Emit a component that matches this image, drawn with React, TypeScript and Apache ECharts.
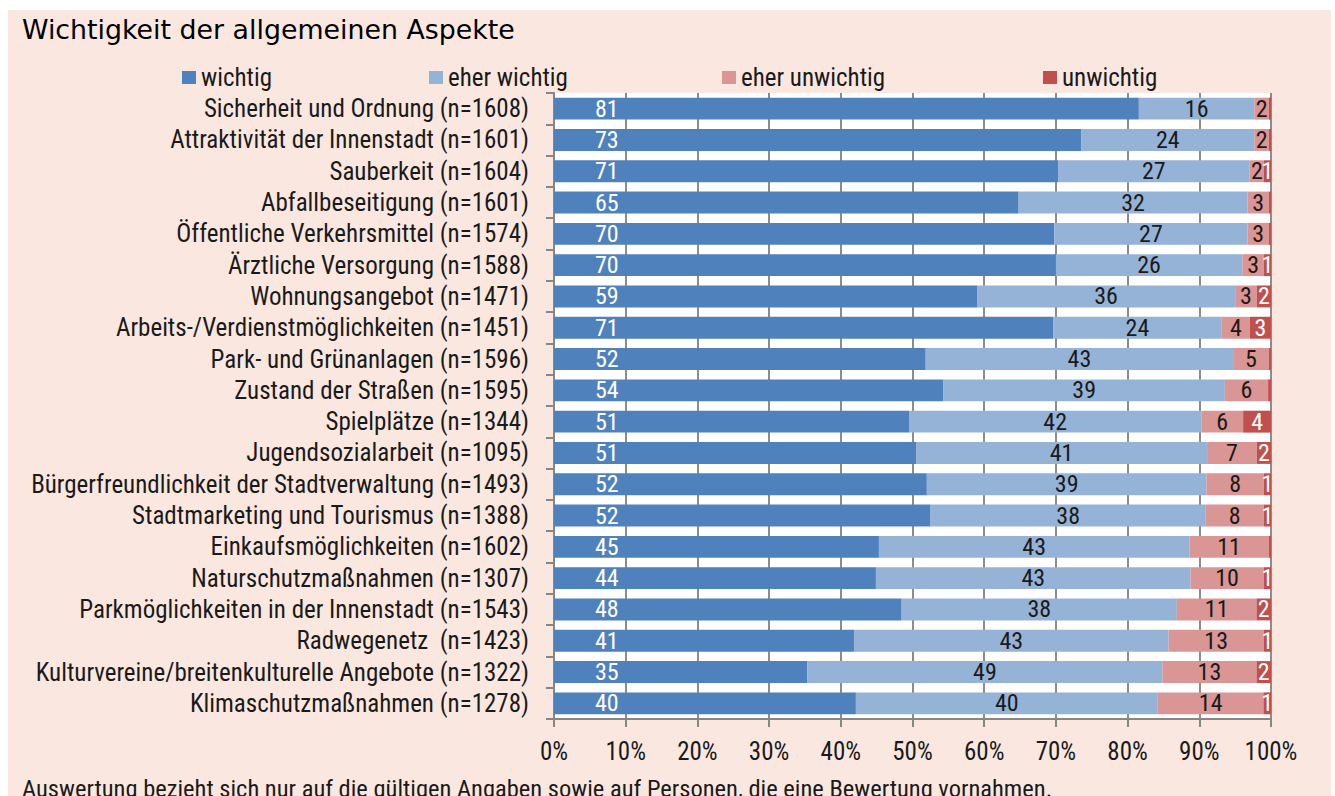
import React, { useEffect, useRef } from "react";
import * as echarts from "echarts";

const categories = [
  "Sicherheit und Ordnung (n=1608)",
  "Attraktivität der Innenstadt (n=1601)",
  "Sauberkeit (n=1604)",
  "Abfallbeseitigung (n=1601)",
  "Öffentliche Verkehrsmittel (n=1574)",
  "Ärztliche Versorgung (n=1588)",
  "Wohnungsangebot (n=1471)",
  "Arbeits-/Verdienstmöglichkeiten (n=1451)",
  "Park- und Grünanlagen (n=1596)",
  "Zustand der Straßen (n=1595)",
  "Spielplätze (n=1344)",
  "Jugendsozialarbeit (n=1095)",
  "Bürgerfreundlichkeit der Stadtverwaltung (n=1493)",
  "Stadtmarketing und Tourismus (n=1388)",
  "Einkaufsmöglichkeiten (n=1602)",
  "Naturschutzmaßnahmen (n=1307)",
  "Parkmöglichkeiten in der Innenstadt (n=1543)",
  "Radwegenetz  (n=1423)",
  "Kulturvereine/breitenkulturelle Angebote (n=1322)",
  "Klimaschutzmaßnahmen (n=1278)",
];

const wichtig = [81, 73, 71, 65, 70, 70, 59, 71, 52, 54, 51, 51, 52, 52, 45, 44, 48, 41, 35, 40];
const eherWichtig = [16, 24, 27, 32, 27, 26, 36, 24, 43, 39, 42, 41, 39, 38, 43, 43, 38, 43, 49, 40];
const eherUnwichtig = [2, 2, 2, 3, 3, 3, 3, 4, 5, 6, 6, 7, 8, 8, 11, 10, 11, 13, 13, 14];
const unwichtig = [0.3, 0.3, 1, 0.3, 0.3, 1, 2, 3, 0.3, 0.4, 4, 2, 1, 1, 0.3, 1, 2, 1, 2, 1];

const xTicks = [0, 10, 20, 30, 40, 50, 60, 70, 80, 90, 100];

const seriesNames = ["wichtig", "eher wichtig", "eher unwichtig", "unwichtig"];
const seriesColors = ["#4F81BD", "#95B3D7", "#D99694", "#C0504D"];
const labelColors = ["#ffffff", "#1a1a1a", "#1a1a1a", "#ffffff"];
const legendLefts = [174, 421, 714, 1035];

const TITLE = "Wichtigkeit der allgemeinen Aspekte";
const FOOTNOTE =
  "Auswertung bezieht sich nur auf die gültigen Angaben sowie auf Personen, die eine Bewertung vornahmen.";

const NARROW = "'Roboto Condensed', 'Liberation Sans Narrow', 'DejaVu Sans Condensed', sans-serif";
const WIDE = "'DejaVu Sans', 'Noto Sans', sans-serif";

export default function App() {
  const ref = useRef<HTMLDivElement>(null);

  useEffect(() => {
    if (!ref.current) return;
    const chart = echarts.init(ref.current, undefined, { renderer: "svg" });
    const raw = [wichtig, eherWichtig, eherUnwichtig, unwichtig];
    const totals = categories.map((_, i) => raw.reduce((s, arr) => s + arr[i], 0));

    const series = raw.map((arr, k) => ({
      name: seriesNames[k],
      type: "bar",
      stack: "total",
      barCategoryGap: "30%",
      itemStyle: { color: seriesColors[k] },
      label: {
        show: true,
        position: k === 0 ? "insideLeft" : "inside",
        distance: k === 0 ? 41 : 5,
        color: labelColors[k],
        fontFamily: NARROW,
        fontSize: 24,
        formatter: (p: any) => (arr[p.dataIndex] >= 1 ? String(arr[p.dataIndex]) : ""),
      },
      emphasis: { disabled: true },
      data: arr.map((v, i) => (v / totals[i]) * 100),
    }));

    const legends = seriesNames.map((name, k) => ({
      data: [name],
      left: legendLefts[k],
      top: 55,
      padding: 0,
      icon: "rect",
      itemWidth: 14,
      itemHeight: 13,
      selectedMode: false,
      textStyle: { fontFamily: NARROW, fontSize: 25, color: "#1a1a1a" },
    }));

    chart.setOption({
      animation: false,
      backgroundColor: "transparent",
      textStyle: { fontFamily: NARROW },
      title: {
        text: TITLE,
        left: 14,
        top: 6,
        padding: 0,
        textStyle: { fontFamily: WIDE, fontSize: 26.8, fontWeight: "normal", color: "#000" },
      },
      legend: legends,
      grid: {
        left: 546,
        right: 60,
        top: 83,
        bottom: 77,
        show: true,
        backgroundColor: "#ffffff",
        borderWidth: 0,
        containLabel: false,
        outerBoundsMode: "none",
      },
      xAxis: {
        type: "value",
        min: xTicks[0],
        max: xTicks[xTicks.length - 1],
        interval: 10,
        axisLine: { show: true, lineStyle: { color: "#868686", width: 2 } },
        axisTick: { show: true, length: 8, lineStyle: { color: "#868686", width: 2 } },
        splitLine: { show: true, lineStyle: { color: "#8c8c8c", width: 2 } },
        axisLabel: {
          formatter: "{value}%",
          fontFamily: NARROW,
          fontSize: 25,
          color: "#1a1a1a",
          margin: 20,
        },
      },
      yAxis: {
        type: "category",
        inverse: true,
        data: categories,
        axisLine: { show: true, lineStyle: { color: "#868686", width: 2 } },
        axisTick: { show: true, length: 8, interval: 0, lineStyle: { color: "#868686", width: 2 } },
        axisLabel: {
          interval: 0,
          hideOverlap: false,
          fontFamily: NARROW,
          fontSize: 25,
          color: "#1a1a1a",
          margin: 25,
        },
      },
      graphic: [
        {
          type: "text",
          left: 14,
          top: 766,
          style: { text: FOOTNOTE, fontFamily: NARROW, fontSize: 24.5, fill: "#1a1a1a" },
        },
      ],
      series,
    });
    return () => chart.dispose();
  }, []);

  return (
    <div
      ref={ref}
      style={{
        position: "absolute",
        left: 8,
        top: 10,
        width: 1323,
        height: 786,
        background: "#FAE8E0",
        overflow: "hidden",
      }}
    />
  );
}
